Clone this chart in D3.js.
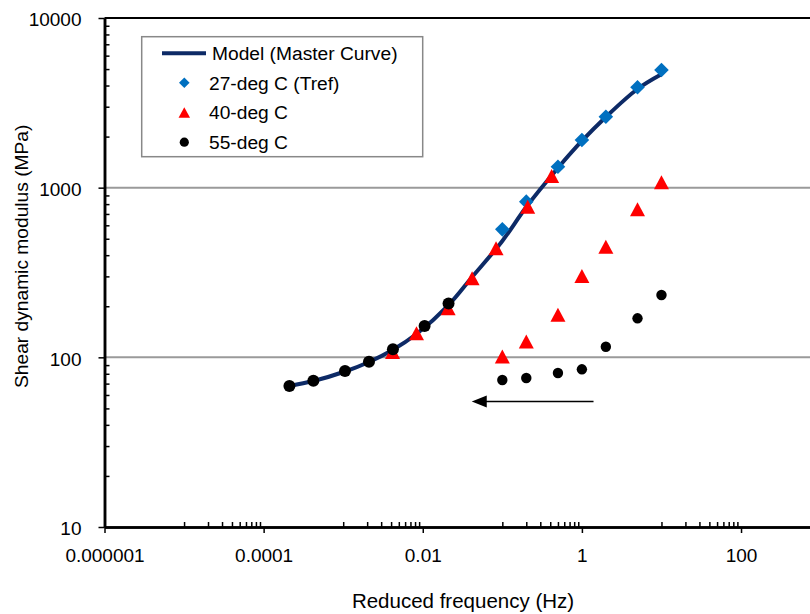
<!DOCTYPE html>
<html>
<head>
<meta charset="utf-8">
<script src="https://cdn.jsdelivr.net/npm/d3@7"></script>
<style>
  html, body { margin: 0; padding: 0; background: #fff; }
  svg { display: block; font-family: "Liberation Sans", Arial, sans-serif; }
</style>
</head>
<body>
<svg id="chart" width="810" height="614"></svg>
<script>
// Test frequencies (Hz)
const testFreq = [0.1, 0.2, 0.5, 1, 2, 5, 10];

// Measured shear dynamic modulus (MPa) at each test temperature
const g27 = [568, 827, 1329, 1909, 2620, 3904, 4937];
const g40 = [101, 124, 178, 302, 449, 746, 1076];
const g55 = [73.5, 75.5, 80.8, 85.0, 115.5, 169.8, 233];

// log10 horizontal shift factors relative to Tref = 27 deg C
const logShift40 = -1.38;
const logShift55 = -2.676;

// Moduli of the shifted points on the master curve (MPa)
const g40Shifted = [107.5, 138.6, 194.5, 292.3, 439.2, 772.4, 1171];
const g55Shifted = [67.8, 72.8, 83.1, 94.2, 111.5, 153, 207.6];

// Model (master curve): reduced frequency (Hz) and modulus (MPa)
const modelFreq = [2.109e-4, 4.22e-4, 1.054e-3, 2.109e-3, 4.17e-3, 8.34e-3,
                   2.109e-2, 4.17e-2, 0.1, 0.2, 0.5, 1, 2, 5, 10];
const modelG = [67.8, 72.5, 82.5, 93.9, 110.5, 137.3,
                203.4, 297.5, 485, 769, 1306, 1884, 2609, 3815, 4660];

// Axis ticks
const xTickValues = [1e-6, 1e-4, 1e-2, 1, 100];
const xTickLabels = ["0.000001", "0.0001", "0.01", "1", "100"];
const yTickValues = [10, 100, 1000, 10000];
const yTickLabels = ["10", "100", "1000", "10000"];
const yGridValues = [100, 1000];

// Arrow showing the shift direction (frequency Hz, modulus MPa)
const arrowFrom = [1.4, 55];
const arrowTo = [0.0413, 55];

const svg = d3.select("#chart");
svg.append("rect").attr("width", 810).attr("height", 614).attr("fill", "#fff");

const x = d3.scaleLog().domain([1e-6, 1000]).range([104.5, 820.6]);
const y = d3.scaleLog().domain([10, 10000]).range([527, 18]);

// Minor ticks
const xMinor = [];
[-5, -3, -1, 1, 3].forEach(e => {
  for (let k = 1; k <= 9; k++) xMinor.push(k * Math.pow(10, e));
});
const yMinor = [];
[1, 2, 3].forEach(e => {
  for (let k = 2; k <= 9; k++) yMinor.push(k * Math.pow(10, e));
});

// Gridlines
svg.append("g").selectAll("line").data(yGridValues).join("line")
  .attr("x1", x.range()[0]).attr("x2", x.range()[1])
  .attr("y1", d => y(d)).attr("y2", d => y(d))
  .attr("stroke", "#9a9a9a").attr("stroke-width", 2);

// Top border line
svg.append("line")
  .attr("x1", x.range()[0]).attr("x2", x.range()[1])
  .attr("y1", y(10000)).attr("y2", y(10000))
  .attr("stroke", "#000").attr("stroke-width", 2);

// Axes
const axisStroke = 2.5;
const xAxis = svg.append("g").attr("transform", `translate(0,${y(10)})`);
xAxis.call(d3.axisBottom(x).tickValues(xTickValues).tickFormat((d, i) => xTickLabels[i])
  .tickSize(6).tickSizeOuter(0).tickPadding(16));
const xAxisMinor = svg.append("g").attr("transform", `translate(0,${y(10)})`);
xAxisMinor.call(d3.axisBottom(x).tickValues(xMinor).tickFormat("").tickSize(-5).tickSizeOuter(0));

const yAxis = svg.append("g").attr("transform", `translate(${x(1e-6)},0)`);
yAxis.call(d3.axisLeft(y).tickValues(yTickValues).tickFormat((d, i) => yTickLabels[i])
  .tickSize(6).tickSizeOuter(0).tickPadding(17));
const yAxisMinor = svg.append("g").attr("transform", `translate(${x(1e-6)},0)`);
yAxisMinor.call(d3.axisLeft(y).tickValues(yMinor).tickFormat("").tickSize(-5).tickSizeOuter(0));

[xAxis, xAxisMinor, yAxis, yAxisMinor].forEach(g => {
  g.select(".domain").attr("stroke", "#000").attr("stroke-width", axisStroke);
  g.selectAll(".tick line").attr("stroke", "#000").attr("stroke-width", 1.5);
  g.selectAll("text").attr("font-size", 19).attr("fill", "#000")
    .attr("font-family", '"Liberation Sans", Arial, sans-serif');
});
xAxis.selectAll("text").attr("dy", "0.71em");
yAxis.selectAll("text").attr("dy", "0.42em");

// Axis titles
svg.append("text")
  .attr("x", 463).attr("y", 608)
  .attr("text-anchor", "middle").attr("font-size", 20.5)
  .text("Reduced frequency (Hz)");
svg.append("text")
  .attr("transform", "translate(28,388) rotate(-90)")
  .attr("text-anchor", "start").attr("font-size", 19.2)
  .text("Shear dynamic modulus (MPa)");

// Marker shapes
const diamondPath = h => `M0,${-h}L${h},0L0,${h}L${-h},0Z`;
const trianglePath = (w, h) => `M0,${-h / 2}L${w / 2},${h / 2}L${-w / 2},${h / 2}Z`;

// Master curve
const line = d3.line()
  .x((d, i) => x(modelFreq[i]))
  .y(d => y(d))
  .curve(d3.curveCatmullRom.alpha(0.5));
svg.append("path")
  .datum(modelG)
  .attr("d", line)
  .attr("fill", "none")
  .attr("stroke", "#0d2a66")
  .attr("stroke-width", 4)
  .attr("stroke-linejoin", "round");

// 27-deg C (reference temperature)
svg.append("g").selectAll("path").data(g27).join("path")
  .attr("transform", (d, i) => `translate(${x(testFreq[i])},${y(d)})`)
  .attr("d", diamondPath(7.3))
  .attr("fill", "#0070c0");

// 40-deg C: measured and shifted
const shift40 = Math.pow(10, logShift40);
svg.append("g").selectAll("path").data(g40).join("path")
  .attr("transform", (d, i) => `translate(${x(testFreq[i])},${y(d)})`)
  .attr("d", trianglePath(15, 14))
  .attr("fill", "#ff0000");
svg.append("g").selectAll("path").data(g40Shifted).join("path")
  .attr("transform", (d, i) => `translate(${x(testFreq[i] * shift40)},${y(d)})`)
  .attr("d", trianglePath(15, 14))
  .attr("fill", "#ff0000");

// 55-deg C: measured and shifted
const shift55 = Math.pow(10, logShift55);
svg.append("g").selectAll("circle").data(g55).join("circle")
  .attr("cx", (d, i) => x(testFreq[i]))
  .attr("cy", d => y(d))
  .attr("r", 5.2)
  .attr("fill", "#000");
svg.append("g").selectAll("circle").data(g55Shifted).join("circle")
  .attr("cx", (d, i) => x(testFreq[i] * shift55))
  .attr("cy", d => y(d))
  .attr("r", 6)
  .attr("fill", "#000");

// Shift arrow
const ax1 = x(arrowFrom[0]), ax2 = x(arrowTo[0]), ay = y(arrowFrom[1]);
svg.append("line")
  .attr("x1", ax1).attr("x2", ax2 + 12).attr("y1", ay).attr("y2", ay)
  .attr("stroke", "#000").attr("stroke-width", 1.5);
svg.append("path")
  .attr("d", `M${ax2},${ay}L${ax2 + 15},${ay - 6}L${ax2 + 15},${ay + 6}Z`)
  .attr("fill", "#000");

// Legend
const legend = svg.append("g");
legend.append("rect")
  .attr("x", 141.7).attr("y", 36.7).attr("width", 281).attr("height", 120)
  .attr("fill", "#fff").attr("stroke", "#888").attr("stroke-width", 1.5);
const legendItems = ["Model (Master Curve)", "27-deg C (Tref)", "40-deg C", "55-deg C"];
const rowY = [53.3, 82.8, 112.5, 142.2];
legend.append("line")
  .attr("x1", 162).attr("x2", 206).attr("y1", rowY[0]).attr("y2", rowY[0])
  .attr("stroke", "#0d2a66").attr("stroke-width", 4);
legend.append("path")
  .attr("transform", `translate(184.3,${rowY[1]})`)
  .attr("d", diamondPath(5.3)).attr("fill", "#0070c0");
legend.append("path")
  .attr("transform", `translate(184.3,${rowY[2]})`)
  .attr("d", trianglePath(11.5, 10.5)).attr("fill", "#ff0000");
legend.append("circle")
  .attr("cx", 184.3).attr("cy", rowY[3]).attr("r", 4.6).attr("fill", "#000");
legend.selectAll("text").data(legendItems).join("text")
  .attr("x", (d, i) => i === 0 ? 212 : 209)
  .attr("y", (d, i) => rowY[i] + 6.8)
  .attr("font-size", 19.2)
  .attr("fill", "#000")
  .text(d => d);
</script>
</body>
</html>
